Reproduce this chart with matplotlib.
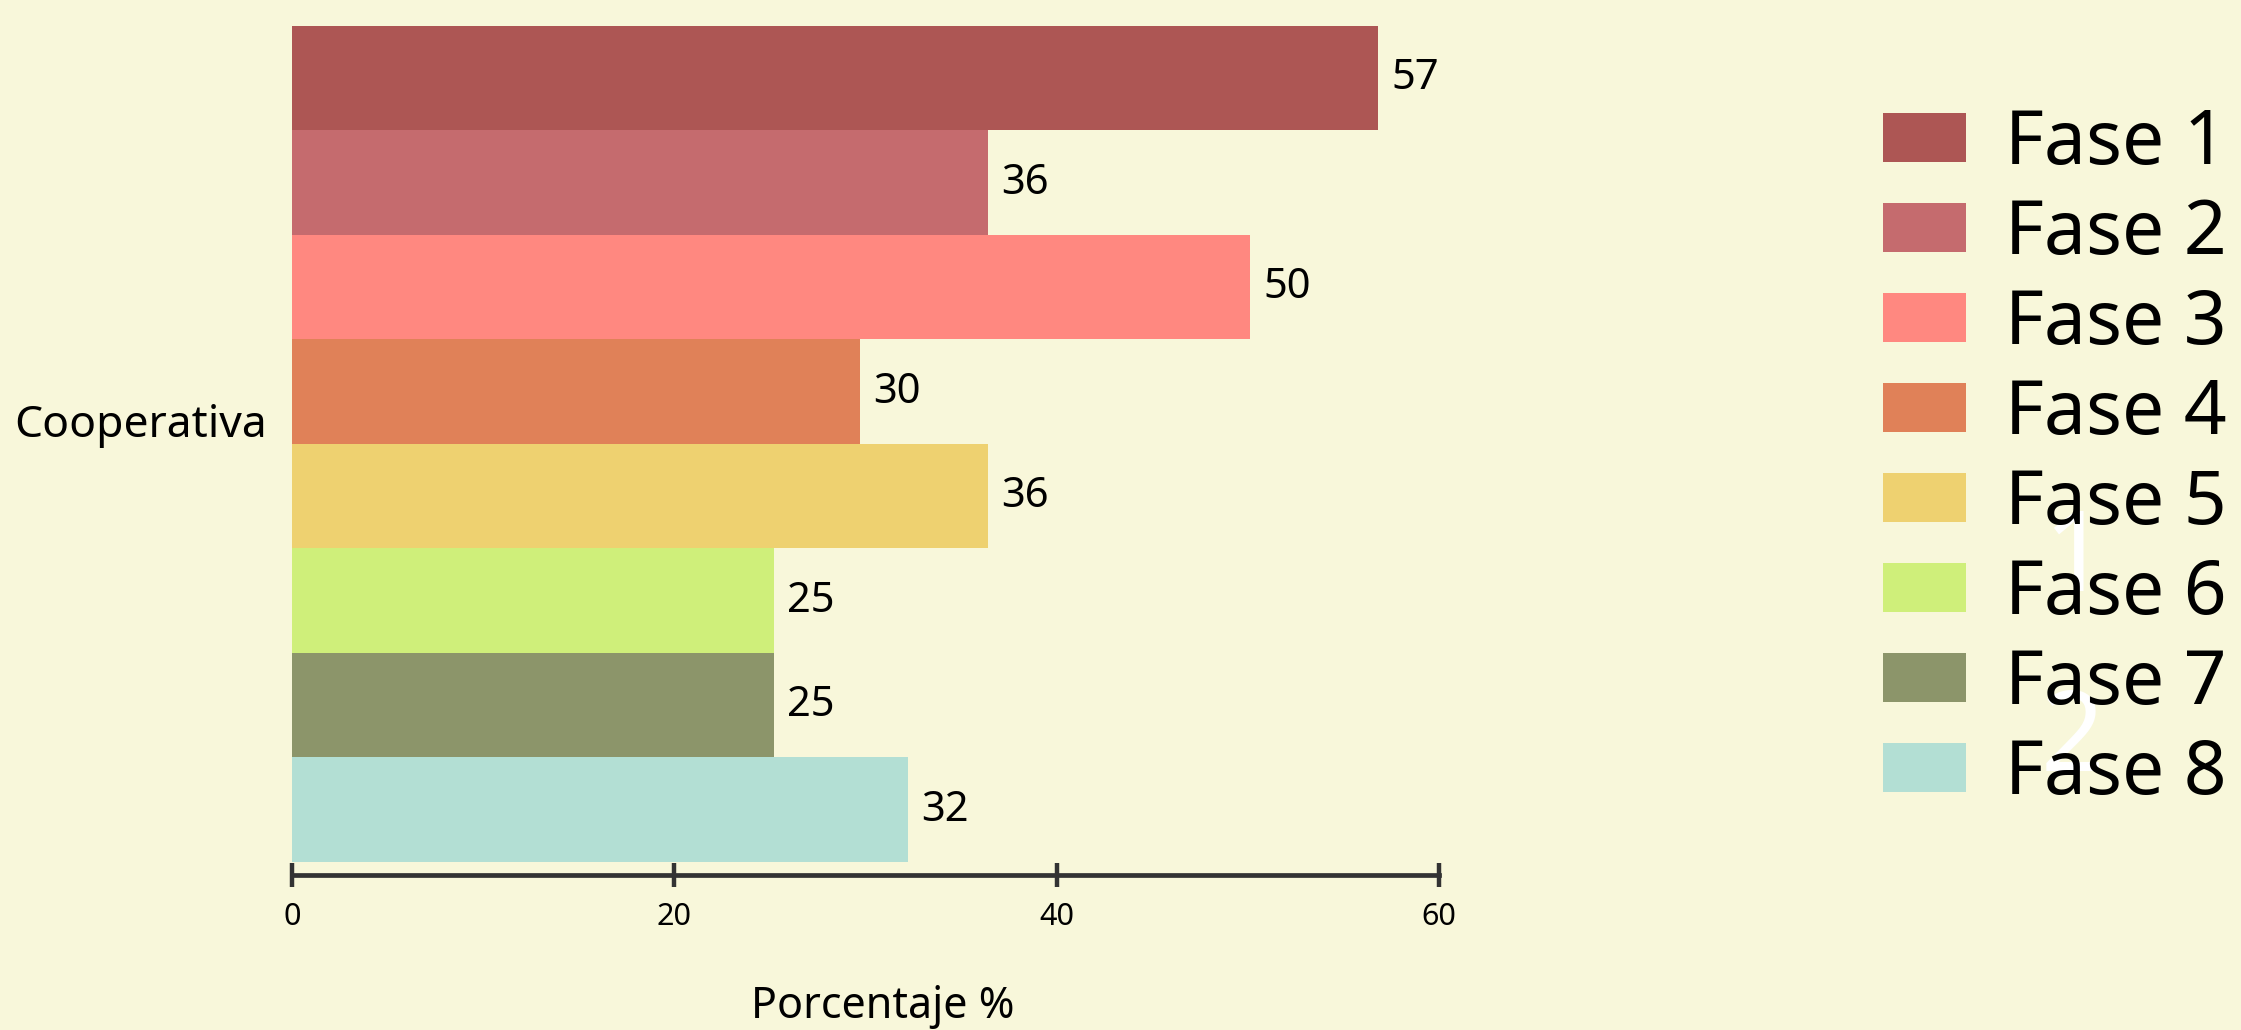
import matplotlib
matplotlib.use("Agg")
import matplotlib.pyplot as plt
from matplotlib.patches import Patch

plt.rcParams['font.family'] = ['Noto Sans', 'DejaVu Sans']

# data
category = "Cooperativa"
fases = ["Fase 1", "Fase 2", "Fase 3", "Fase 4", "Fase 5", "Fase 6", "Fase 7", "Fase 8"]
valores = [56.8, 36.4, 50.1, 29.7, 36.4, 25.2, 25.2, 32.2]
colores = ["#ad5654", "#c56b6e", "#ff8880", "#e08158",
           "#eed170", "#cfef7a", "#8c956a", "#b3dfd4"]
xticks = [0, 20, 40, 60]

bg = "#f8f7da"
W, H = 2241, 1030
fig = plt.figure(figsize=(W / 100, H / 100), dpi=100, facecolor=bg)
ax = fig.add_axes([292 / W, 1 - 875 / H, (1439 - 292) / W, (875 - 26) / H])
ax.set_facecolor(bg)

n = len(valores)
w = 0.8 / n
for i, (v, c) in enumerate(zip(valores, colores)):
    y = (n / 2 - 0.5 - i) * w
    ax.barh(y, v, height=w, color=c, edgecolor="none")
    ax.text(v + 0.7, y, f"{v:.0f}", va="center", ha="left", fontsize=30, color="black")

ax.set_xlim(0, 60)
ax.set_ylim(-0.4 - 0.0125, 0.4)
# category label sits slightly above the group centre in the original
ax.set_yticks([0.022])
ax.set_yticklabels([category], fontsize=32)
ax.set_xticks(xticks)
ax.set_xticklabels([str(t) for t in xticks], fontsize=22)
ax.tick_params(axis="y", length=0, pad=18)
ax.tick_params(axis="x", direction="inout", length=17, width=3.2, color="#333333", pad=11)

for s in ["top", "right", "left"]:
    ax.spines[s].set_visible(False)
ax.spines["bottom"].set_linewidth(3.4)
ax.spines["bottom"].set_color("#333333")
ax.set_xlabel("Porcentaje %", fontsize=31)
ax.xaxis.set_label_coords(0.515, -132 / 849)
ax.xaxis.label.set_va("center")

handles = [Patch(facecolor=c, edgecolor="none") for c in colores]
fig.legend(handles, fases, loc="upper left", bbox_to_anchor=(1883 / W, 1 - 107 / H),
           frameon=False, fontsize=54, borderpad=0, borderaxespad=0,
           handlelength=1.11, handleheight=0.62, handletextpad=0.52, labelspacing=0.2)

# white stray labels in the legend area
fig.text(2075 / W, 1 - 562 / H, "1", color="white", fontsize=80, fontweight="semibold",
         ha="center", va="center")
fig.text(2072 / W, 1 - 742 / H, "2", color="white", fontsize=80, fontweight="semibold",
         ha="center", va="center")

fig.savefig("out.png", dpi=100, facecolor=bg)
